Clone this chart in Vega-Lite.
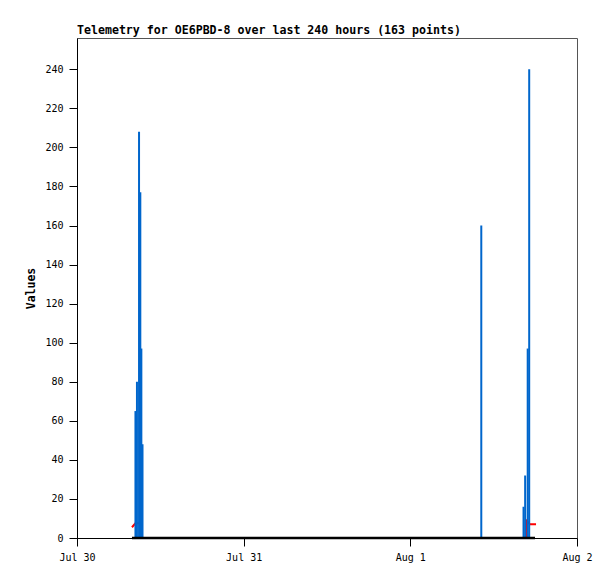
{
  "$schema": "https://vega.github.io/schema/vega-lite/v6.json",
  "width": 500,
  "height": 500,
  "autosize": "none",
  "padding": {"left": 77, "top": 38, "right": 38, "bottom": 41},
  "background": "white",
  "config": {
    "view": {"stroke": "#555", "strokeWidth": 1},
    "axis": {"grid": false, "labelFont": "DejaVu Sans Mono", "labelFontSize": 10, "labelColor": "black", "tickColor": "black", "domainColor": "black", "tickSize": 8, "titleFont": "DejaVu Sans Mono", "titleColor": "black"}
  },
  "title": {"text": "Telemetry for OE6PBD-8 over last 240 hours (163 points)", "font": "DejaVu Sans Mono", "fontSize": 11.6, "fontWeight": "bold", "anchor": "start", "frame": "group", "offset": 1, "color": "black"},
  "datasets": {
    "blue": [
      {"t": "2024-07-30T08:25:00", "v": 65},
      {"t": "2024-07-30T08:38:00", "v": 80},
      {"t": "2024-07-30T08:56:00", "v": 208},
      {"t": "2024-07-30T09:07:00", "v": 177},
      {"t": "2024-07-30T09:16:00", "v": 97},
      {"t": "2024-07-30T09:26:00", "v": 48},
      {"t": "2024-08-01T10:13:00", "v": 160},
      {"t": "2024-08-01T16:18:00", "v": 16},
      {"t": "2024-08-01T16:32:00", "v": 32},
      {"t": "2024-08-01T16:54:00", "v": 97},
      {"t": "2024-08-01T17:07:00", "v": 240}
    ],
    "red": [
      {"seg": "a", "t": "2024-07-30T07:55:00", "v": 5.5},
      {"seg": "a", "t": "2024-07-30T08:25:00", "v": 7.5},
      {"seg": "a", "t": "2024-07-30T09:00:00", "v": 7.5},
      {"seg": "b", "t": "2024-08-01T16:41:00", "v": 0},
      {"seg": "b", "t": "2024-08-01T16:42:00", "v": 9},
      {"seg": "b", "t": "2024-08-01T17:14:00", "v": 7},
      {"seg": "b", "t": "2024-08-01T18:06:00", "v": 7}
    ],
    "black": [
      {"t": "2024-07-30T07:55:00", "v": 0},
      {"t": "2024-08-01T17:57:00", "v": 0}
    ]
  },
  "encoding": {
    "x": {
      "field": "t", "type": "temporal",
      "scale": {"type": "time", "domain": [{"year": 2024, "month": "Jul", "date": 30}, {"year": 2024, "month": "Aug", "date": 2}]},
      "axis": {"title": null, "format": "%b %-d", "labelPadding": 6, "labelFlush": false,
        "values": [{"year": 2024, "month": "Jul", "date": 30}, {"year": 2024, "month": "Jul", "date": 31}, {"year": 2024, "month": "Aug", "date": 1}, {"year": 2024, "month": "Aug", "date": 2}]}
    },
    "y": {
      "field": "v", "type": "quantitative",
      "scale": {"domain": [0, 256], "nice": false},
      "axis": {"title": "Values", "titleFontSize": 11.5, "titleFontWeight": "bold", "titlePadding": 8, "values": [0, 20, 40, 60, 80, 100, 120, 140, 160, 180, 200, 220, 240], "labelPadding": 6}
    }
  },
  "layer": [
    {
      "data": {"name": "red"},
      "mark": {"type": "line", "color": "#ff0000", "strokeWidth": 2},
      "encoding": {"detail": {"field": "seg"}}
    },
    {
      "data": {"name": "blue"},
      "mark": {"type": "rule", "color": "#0066cc", "strokeWidth": 2},
      "encoding": {"y2": {"datum": 0}}
    },
    {
      "data": {"name": "black"},
      "mark": {"type": "line", "color": "black", "strokeWidth": 2.5},
      "encoding": {}
    }
  ]
}
